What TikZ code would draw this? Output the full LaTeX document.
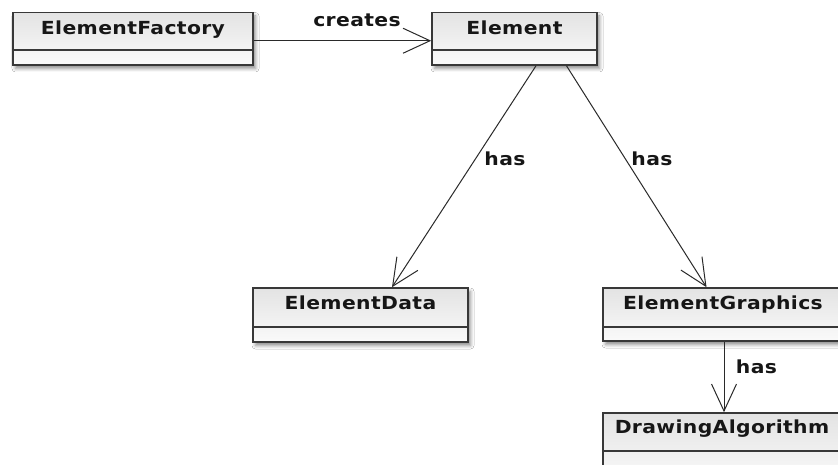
\documentclass[tikz,border=0pt]{standalone}
\usepackage{fontspec}
\newfontfamily\umlfont[FakeStretch=1.13,LetterSpace=2]{DejaVu Sans}
\usetikzlibrary{arrows.meta,shadows.blur}

\definecolor{boxline}{HTML}{383838}
\definecolor{lineclr}{HTML}{2A2A2A}
\definecolor{boxtop}{HTML}{E3E3E3}
\definecolor{boxbot}{HTML}{FAFAFA}
\definecolor{labeltext}{HTML}{161616}

\tikzset{
  classbox/.style={rectangle, draw=boxline, line width=1.6bp, inner sep=0pt,
    top color=boxtop, bottom color=boxbot,
    blur shadow={shadow xshift=2.5bp, shadow yshift=-3.5bp, shadow blur radius=3.5bp, shadow opacity=45}},
  divider/.style={draw=boxline, line width=1.6bp},
  classname/.style={font={\umlfont\bfseries\fontsize{18bp}{20bp}\selectfont},
    text=labeltext, inner sep=0pt, anchor=base},
  rolelabel/.style={classname},
  assoc/.style={draw=lineclr, line width=1bp,
    -{Straight Barb[length=27bp,width=25bp,line width=1bp]}}
}

\begin{document}
\begin{tikzpicture}[x=1bp,y=-1bp]
  % canvas
  \fill[white] (0,0) rectangle (838,465);
  \useasboundingbox (0,0) rectangle (838,465);
  \clip (0,0) rectangle (838,465);

  % class boxes
  \node[classbox, minimum width=240bp, minimum height=52.5bp] (ef) at (133,38.75) {};
  \node[classbox, minimum width=165bp, minimum height=52.5bp] (el) at (514.5,38.75) {};
  \node[classbox, minimum width=215bp, minimum height=54bp] (ed) at (360.5,315) {};
  \node[classbox, minimum width=240bp, minimum height=53bp] (eg) at (723,314.5) {};
  \node[classbox, minimum width=240bp, minimum height=70bp] (da) at (723,448) {};

  % compartment dividers
  \draw[divider] (ef.west |- 0,50) -- (ef.east |- 0,50);
  \draw[divider] (el.west |- 0,50) -- (el.east |- 0,50);
  \draw[divider] (ed.west |- 0,327) -- (ed.east |- 0,327);
  \draw[divider] (eg.west |- 0,327) -- (eg.east |- 0,327);
  \draw[divider] (da.west |- 0,451) -- (da.east |- 0,451);

  % class names
  \node[classname] (ef-name) at (133,34.5) {ElementFactory};
  \node[classname] (el-name) at (514.5,34.5) {Element};
  \node[classname] (ed-name) at (360.5,310) {ElementData};
  \node[classname] (eg-name) at (723,310) {ElementGraphics};
  \node[classname] (da-name) at (722,433.5) {DrawingAlgorithm};

  % associations
  \draw[assoc] ([yshift=-2bp]ef.east) -- ([yshift=-2bp]el.west);
  \draw[assoc] ([xshift=21.5bp]el.south) -- ([xshift=31.5bp]ed.north);
  \draw[assoc] ([xshift=52bp]el.south) -- ([xshift=-16.5bp]eg.north);
  \draw[assoc] ([xshift=1bp]eg.south) -- ([xshift=1bp]da.north);

  % association labels
  \node[rolelabel] (lbl-creates) at (357,27) {creates};
  \node[rolelabel] (lbl-has1) at (505,166) {has};
  \node[rolelabel] (lbl-has2) at (652,166) {has};
  \node[rolelabel] (lbl-has3) at (756.5,374) {has};
\end{tikzpicture}
\end{document}
